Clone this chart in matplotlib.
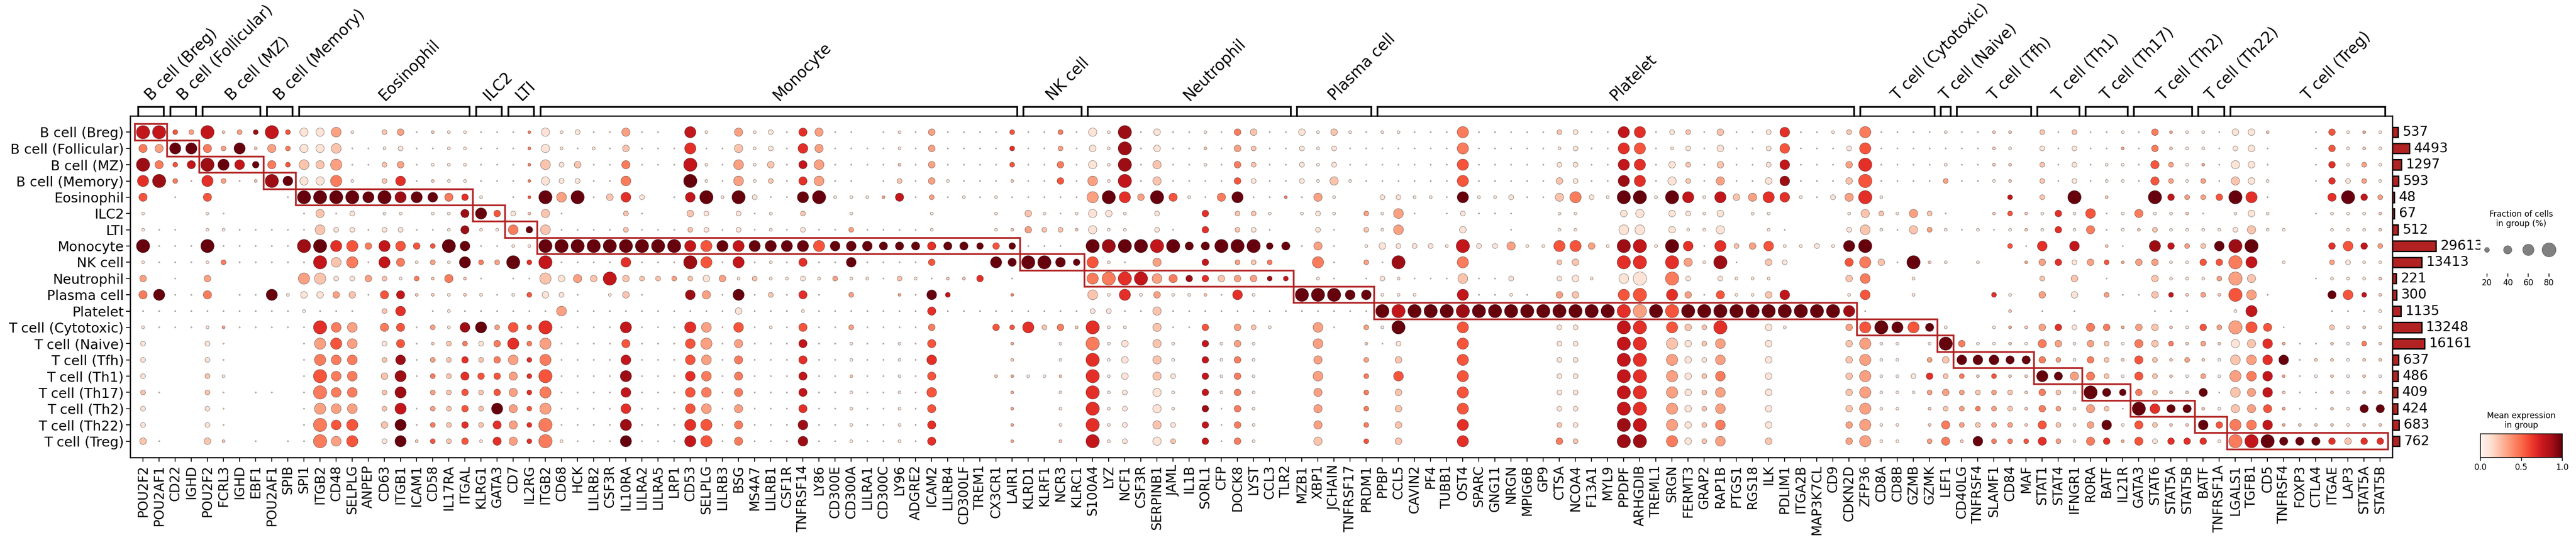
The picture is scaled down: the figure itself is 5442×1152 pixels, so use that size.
import numpy as np
import matplotlib

matplotlib.use("Agg")
import matplotlib.pyplot as plt
from matplotlib import transforms
from matplotlib.patches import Rectangle

CELL_TYPES = [
    "B cell (Breg)", "B cell (Follicular)", "B cell (MZ)", "B cell (Memory)",
    "Eosinophil", "ILC2", "LTI", "Monocyte", "NK cell", "Neutrophil",
    "Plasma cell", "Platelet", "T cell (Cytotoxic)", "T cell (Naive)",
    "T cell (Tfh)", "T cell (Th1)", "T cell (Th17)", "T cell (Th2)",
    "T cell (Th22)", "T cell (Treg)",
]
GROUP_LENGTHS = [2, 2, 4, 2, 11, 2, 2, 30, 4, 13, 5, 30, 5, 1, 5, 3, 3, 4, 2, 10]
GENES = [
    "POU2F2", "POU2AF1", "CD22", "IGHD", "POU2F2", "FCRL3", "IGHD", "EBF1",
    "POU2AF1", "SPIB", "SPI1", "ITGB2", "CD48", "SELPLG", "ANPEP", "CD63",
    "ITGB1", "ICAM1", "CD58", "IL17RA", "ITGAL", "KLRG1", "GATA3", "CD7",
    "IL2RG", "ITGB2", "CD68", "HCK", "LILRB2", "CSF3R", "IL10RA", "LILRA2",
    "LILRA5", "LRP1", "CD53", "SELPLG", "LILRB3", "BSG", "MS4A7", "LILRB1",
    "CSF1R", "TNFRSF14", "LY86", "CD300E", "CD300A", "LILRA1", "CD300C",
    "LY96", "ADGRE2", "ICAM2", "LILRB4", "CD300LF", "TREM1", "CX3CR1",
    "LAIR1", "KLRD1", "KLRF1", "NCR3", "KLRC1", "S100A4", "LYZ", "NCF1",
    "CSF3R", "SERPINB1", "JAML", "IL1B", "SORL1", "CFP", "DOCK8", "LYST",
    "CCL3", "TLR2", "MZB1", "XBP1", "JCHAIN", "TNFRSF17", "PRDM1", "PPBP",
    "CCL5", "CAVIN2", "PF4", "TUBB1", "OST4", "SPARC", "GNG11", "NRGN",
    "MPIG6B", "GP9", "CTSA", "NCOA4", "F13A1", "MYL9", "PPDPF", "ARHGDIB",
    "TREML1", "SRGN", "FERMT3", "GRAP2", "RAP1B", "PTGS1", "RGS18", "ILK",
    "PDLIM1", "ITGA2B", "MAP3K7CL", "CD9", "CDKN2D", "ZFP36", "CD8A", "CD8B",
    "GZMB", "GZMK", "LEF1", "CD40LG", "TNFRSF4", "SLAMF1", "CD84", "MAF",
    "STAT1", "STAT4", "IFNGR1", "RORA", "BATF", "IL21R", "GATA3", "STAT6",
    "STAT5A", "STAT5B", "BATF", "TNFRSF1A", "LGALS1", "TGFB1", "CD5",
    "TNFRSF4", "FOXP3", "CTLA4", "ITGAE", "LAP3", "STAT5A", "STAT5B",
]
CELL_COUNTS = [537, 4493, 1297, 593, 48, 67, 512, 29613, 13413, 221, 300,
               1135, 13248, 16161, 637, 486, 409, 424, 683, 762]

# fraction of cells per level digit
FRAC_BY_LEVEL = [0.0, 0.03, 0.1, 0.2, 0.3, 0.4, 0.5, 0.6, 0.75, 0.9]

# one digit per gene, spaces only mark gene groups
FRAC_LEVELS = [
    "88 33 8233 83 55620341222 11 12 5231151107 2052315511 0121411113 1131 5281411214411 42421 2211171111 1331177133 1411361123 71111 2 11220 313 112 1422 21 4420014222",
    "55 77 5372 53 55611231122 11 12 5212141117 1152316511 1121411113 1131 4281411214311 32311 1111171111 1231177123 1411361113 71111 1 11220 313 112 1422 21 3410014222",
    "85 35 8764 53 65711341222 11 12 6341151118 2162415611 1121411113 1141 5281511214311 32311 1111171111 1331177143 1411361114 81111 2 11220 313 122 1532 21 5410014232",
    "78 31 7312 86 55720361222 11 12 5331160008 2162315611 0131421112 1141 6281511114311 32521 1111171111 1431177153 1511461114 81111 3 11220 313 122 1532 31 5420014332",
    "50 10 5000 01 88887877654 20 12 8681463016 8283117822 2251312121 1111 7874852157112 15200 3322172231 1573288287 2745762135 82000 0 00030 308 020 0843 34 8710005843",
    "20 00 2100 00 15130220225 74 32 5100031004 3031203002 0000200020 4212 5420300403320 23203 2610131110 0220045043 2402200002 53253 1 00232 242 612 5222 10 2420012222",
    "21 10 2211 11 16331331125 22 64 6111131113 3131213113 1111200022 4332 5220310403310 03103 2600040010 0220066042 2500210003 62153 2 12122 242 512 2322 22 3522002222",
    "81 11 8111 11 88774764386 11 22 8888888887 7777777766 6555555444 1110 8888885588845 15102 4333283352 2774288286 1734622327 80000 0 00031 606 021 0743 36 8800004643",
    "21 11 2311 11 18671752327 33 83 8111161118 7171215116 1111400075 8864 7210500403330 07103 1800070000 0340088085 2810430005 74182 2 02002 443 432 4422 44 8702003322",
    "40 10 4000 00 77334323252 10 11 7454843333 4423223232 2132122401 0000 7888654444433 02101 3211161130 0342068083 0322200004 60020 0 00000 304 010 0422 23 8500012222",
    "57 11 5011 72 44441552222 21 23 4310241006 5171315103 0021630002 0000 6272422216200 88866 2220071121 0440078074 1522460002 60020 0 00320 404 031 1432 32 8610005632",
    "11 11 1111 11 21110360121 11 11 1611111111 1141112111 1111511111 1111 3311511111111 11111 8888888888 8888888888 8888888887 10000 0 00020 101 000 0111 00 2700001112",
    "21 11 2211 11 18660551326 73 63 8111171117 6161215113 1111400043 7342 8220511404320 06103 2800070000 0330088074 3800420004 78775 2 00222 443 542 4422 43 8751003222",
    "30 00 3100 00 17760351233 34 73 7111151116 7151115112 1121500002 0020 8240520424200 06002 1300070000 0330088074 3600400004 72202 8 42222 542 432 5432 32 5562112232",
    "30 00 3100 00 17660361334 34 63 7111161116 6151115112 1121600002 0020 8240520424200 05003 0400070000 0330088074 3600400004 72203 4 66655 432 432 5323 22 6666122222",
    "30 00 3200 00 18660471335 44 53 8111171116 6151115112 1121500022 2220 8240530424200 06003 0600070000 0330088074 3600400004 72234 3 32322 755 532 5322 32 7662122222",
    "31 00 3101 10 18660370334 34 53 7111161116 6151115112 1121600002 0020 8230520424200 05003 0400070000 0330088074 3600400004 72223 4 33332 432 854 4322 51 6562112222",
    "30 00 3100 00 17660371334 37 53 7111161116 6151115112 1121500002 0020 8230520414200 05003 0400070000 0330088074 3600400004 72202 3 33332 432 531 8655 22 5552112255",
    "30 00 3100 00 18670471334 35 53 8111171117 7151116112 1121500002 0020 8230530414200 05003 0400070000 0330088074 3600400004 72202 5 33332 532 462 5322 64 7662222222",
    "41 00 4201 01 18670372334 25 53 8211171117 7151116112 1121500002 0020 8230530414200 05003 0400070000 0430088074 3600400004 72203 5 26333 532 542 5344 42 8885554444",
]

# mean expression in group, digit / 9
EXPR_LEVELS = [
    "77 53 7238 75 11310231211 11 14 1111131107 1031116311 0111311115 1141 1181111114211 11211 1111141111 1211176112 1211161112 41111 1 11220 212 111 1431 11 1120015131",
    "43 99 4392 34 11211111111 11 14 1111121116 1121116311 1111311116 1131 1181111213211 11111 1111141111 1111165111 1111151111 51111 1 11210 111 113 1421 11 1110015121",
    "84 57 8979 45 22311231111 11 14 2121141117 1131217311 1121311115 1141 1181211114211 11111 1111151111 1111176112 1211171113 61111 1 11220 211 111 1531 31 1110016131",
    "68 41 6312 89 11410261211 11 14 1111140009 1131216311 0121311112 1151 3171211115111 11211 1111151111 1211186112 1311181112 51111 3 11120 211 111 1531 31 2110016131",
    "50 10 5000 01 99999989946 10 15 9391261017 9191119911 1371311111 1111 3963951149114 13100 1111191111 1241199197 1723661113 61000 0 00070 209 020 0973 35 9610006973",
    "10 00 1100 00 12110110118 95 12 2100021002 1011102001 0000100010 2111 1110100602210 11103 1310111110 0110011011 1101100001 22132 1 00252 161 511 4112 10 1110011112",
    "11 10 1111 11 12111111118 11 49 2111121112 1111111113 1111100012 3222 1110110602110 01102 1300010010 0110011011 1100110001 21123 1 11112 161 411 2211 11 1211001112",
    "91 11 9111 11 89654755599 11 11 9999999997 5979999599 9999699959 1110 9899799999999 13101 1111171131 1553187196 1623511119 90000 0 00051 607 021 0873 29 8900006573",
    "11 11 1411 11 17241741319 43 96 7111161118 5171116119 1111500099 9999 5110300703240 04103 1800040000 0220066063 1810210005 42192 1 01003 361 353 3311 55 4701003111",
    "30 10 3000 00 32113214242 10 11 2132722232 1312111131 1121122601 0000 4467348623387 01101 1111121110 0111011041 0111100002 40010 0 00000 202 010 0211 13 3200011112",
    "49 11 4011 91 11321572212 11 15 1110121008 3191216103 0031970004 0000 2161311216100 99999 1110071111 0320055063 1511270001 50010 0 00610 301 031 1272 32 5310009572",
    "11 11 1111 11 11110260111 11 11 1311111111 1111111111 1111611111 1111 1111211111111 11111 9799989999 9999963959 9999999998 10000 0 00020 101 000 0111 00 1700001111",
    "11 11 1311 11 16430451318 93 55 6111171116 3151115113 1111400055 6242 6110211503210 03103 1900050000 0110076052 2600110003 59959 1 00132 361 443 3221 53 3551002121",
    "10 00 1100 00 13530151224 14 64 3111151115 3131117111 1111500003 0010 4110210713100 03002 1100050000 0110076021 2300100002 31101 9 41121 431 321 4242 32 1263112142",
    "10 00 1100 00 14440281326 24 36 4111171115 3141116111 1111600002 0010 6110210714100 03003 0200050000 0110076031 1300100002 31103 2 99999 431 422 5223 21 2369122122",
    "10 00 2100 00 15440281426 55 36 5111181116 4141117112 1111500023 1120 6110210714100 03004 0500050000 0110076031 2400100002 31116 2 42522 993 421 5221 31 3473112121",
    "21 00 2101 10 14440280325 25 36 4111171115 4141117111 1111500003 0010 6110110714100 03004 0200050000 0110076031 2300100002 31113 3 32322 421 999 4222 91 2372112122",
    "10 00 1100 00 13330271325 29 35 3111161115 3131116111 1111500003 0010 6110110814100 03004 0200050000 0110076031 2300100002 31102 2 34322 431 321 9699 21 2353112199",
    "10 00 1100 00 14550291426 26 36 4111181116 5141118111 1111600003 0010 6110210714100 03004 0200060000 0210087031 2400100003 31102 4 32332 521 391 5222 95 4473222122",
    "21 00 2201 01 14350192525 16 36 4111191117 5141118111 1111600003 0020 7110120714100 02005 0200060000 0420088041 2300200003 31103 4 29445 631 463 5166 61 4799996266",
]

LEGEND_FRACS = [0.2, 0.4, 0.6, 0.8]

BOX_RED = "#b22222"
DOT_MAX = 635  # marker area (pt^2) of a dot at 100 %
W, H = 5442, 1152


def fig_rect(x0, y0, x1, y1):
    """pixel box (y from top) -> figure fraction rect"""
    return [x0 / W, 1 - y1 / H, (x1 - x0) / W, (y1 - y0) / H]


def decode(rows):
    out = []
    for i, s in enumerate(rows):
        digits = s.replace(" ", "")
        assert len(digits) == len(GENES), (i, len(digits))
        out.append([int(ch) for ch in digits])
    return np.array(out)


frac = np.array(FRAC_BY_LEVEL)[decode(FRAC_LEVELS)]
expr = decode(EXPR_LEVELS) / 9.0
n_rows, n_cols = frac.shape

fig = plt.figure(figsize=(W / 100, H / 100), dpi=100)

# main dot plot
ax = fig.add_axes(fig_rect(275, 245, 5054, 967))
yy, xx = np.nonzero(frac > 0)
ax.scatter(xx, yy, s=DOT_MAX * frac[yy, xx] ** 1.5, c=expr[yy, xx],
           cmap="Reds", vmin=0, vmax=1, edgecolors="black",
           linewidths=0.3, zorder=3)

starts = np.cumsum([0] + GROUP_LENGTHS[:-1])
for i, (start, n, name) in enumerate(zip(starts, GROUP_LENGTHS, CELL_TYPES)):
    end = start + n - 1
    ax.add_patch(Rectangle((start - 0.5, i - 0.5), n, 1, fill=False,
                           edgecolor=BOX_RED, linewidth=2.6, zorder=4,
                           clip_on=False))
    ax.plot([start - 0.3, start - 0.3, end + 0.3, end + 0.3],
            [-1, -1.55, -1.55, -1], color="black", linewidth=2.6,
            clip_on=False, solid_joinstyle="miter")
    ax.text((start + end) / 2 + 0.15, -1.75, name, rotation=45,
            rotation_mode="anchor", ha="left", va="bottom", fontsize=23.5)

ax.set_xlim(-0.8, n_cols - 0.25)
ax.set_ylim(n_rows, -1)
ax.set_xticks(range(n_cols))
ax.set_xticklabels(GENES, rotation=90, fontsize=20)
ax.set_yticks(range(n_rows))
ax.set_yticklabels(CELL_TYPES, fontsize=20.7)
ax.tick_params(axis="both", length=6.5, width=1.3)
ax.tick_params(axis="x", pad=5)
ax.tick_params(axis="y", pad=3)
for sp in ax.spines.values():
    sp.set_linewidth(1.8)

# cell counts per group
bx = fig.add_axes(fig_rect(5054, 245, 5240, 967))
bx.barh(range(n_rows), CELL_COUNTS, height=0.62, color=BOX_RED,
        edgecolor="black", linewidth=2.0)
bx.set_xscale("function", functions=(lambda v: np.sqrt(np.clip(v, 0, None)),
                                     np.square))
bx.set_xlim(0, 121000)
bx.set_ylim(n_rows, -1)
bx.axis("off")
off = transforms.offset_copy(bx.transData, fig=fig, x=7, y=0, units="points")
for i, v in enumerate(CELL_COUNTS):
    bx.text(v, i, str(v), transform=off, va="center", ha="left",
            fontsize=20.5, clip_on=True)

# dot size legend
lx = fig.add_axes(fig_rect(5240, 495, 5413, 578))
lx.scatter(range(len(LEGEND_FRACS)), [0.6] * len(LEGEND_FRACS),
           s=DOT_MAX * np.array(LEGEND_FRACS) ** 1.5, color="gray",
           edgecolors="black", linewidths=0.3)
lx.set_xlim(-0.32, 3.64)
lx.set_ylim(0, 1)
lx.set_xticks(range(len(LEGEND_FRACS)))
lx.set_xticklabels([f"{int(f * 100)}" for f in LEGEND_FRACS], fontsize=12.3)
lx.set_yticks([])
for sp in lx.spines.values():
    sp.set_visible(False)
lx.tick_params(axis="x", length=5, width=1.2, pad=3)
lx.set_title("Fraction of cells\nin group (%)", fontsize=12.3, pad=12)

# colour legend
cx = fig.add_axes(fig_rect(5240, 917, 5413, 967))
sm = plt.cm.ScalarMappable(norm=plt.Normalize(0, 1), cmap="Reds")
cb = fig.colorbar(sm, cax=cx, orientation="horizontal", ticks=[0, 0.5, 1])
cb.ax.set_xticklabels(["0.0", "0.5", "1.0"])
cb.ax.tick_params(labelsize=12.3, length=5, width=1.2)
cb.outline.set_linewidth(1.2)
cx.set_title("Mean expression\nin group", fontsize=12.3, pad=9)

fig.savefig("out.png", dpi=100)
